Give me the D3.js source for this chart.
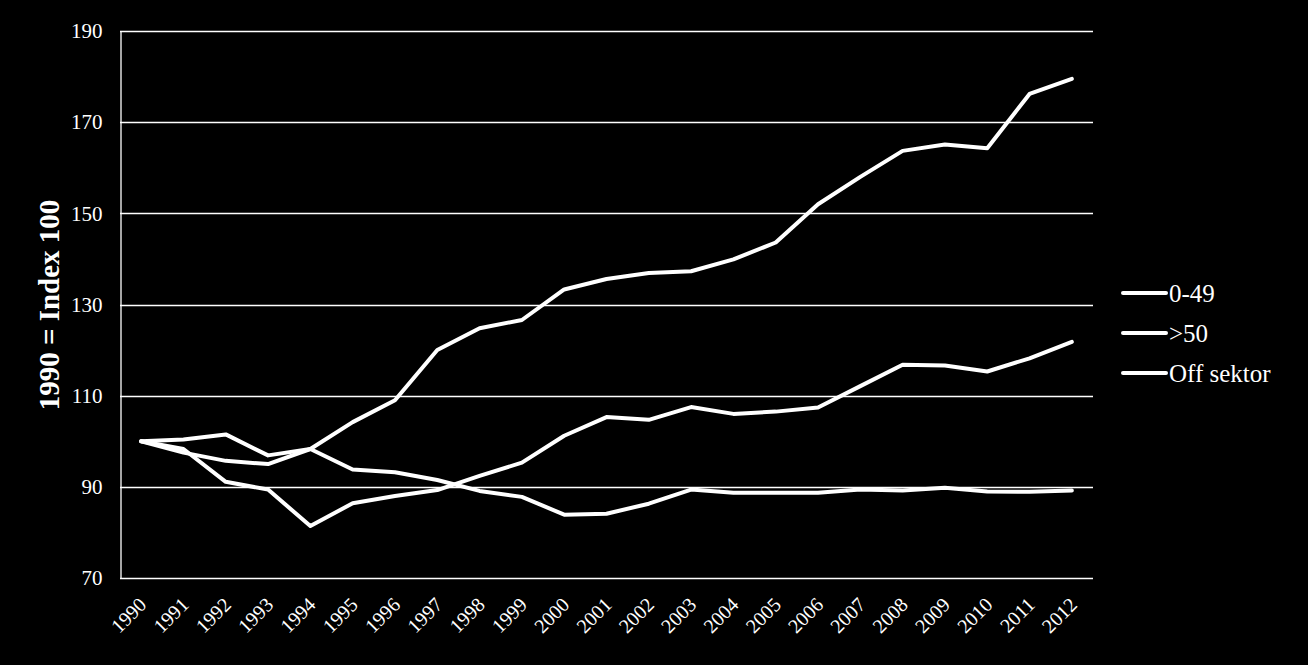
<!DOCTYPE html>
<html>
<head>
<meta charset="utf-8">
<script src="https://cdn.jsdelivr.net/npm/d3@7"></script>
<style>
  body { margin: 0; background: #000; }
  svg { display: block; }
</style>
</head>
<body>
<svg id="chart" width="1308" height="665"></svg>
<script>
// --------------------------------------
// data (1990 = index 100)
// --------------------------------------
const years = [
  "1990", "1991", "1992", "1993", "1994", "1995", "1996", "1997",
  "1998", "1999", "2000", "2001", "2002", "2003", "2004", "2005",
  "2006", "2007", "2008", "2009", "2010", "2011", "2012",
];

const small = [
  100, 100.4, 101.5, 96.9, 98.3, 104.2, 109, 120, 124.8, 126.6, 133.3, 135.6,
  136.9, 137.3, 139.9, 143.6, 152, 158, 163.7, 165.1, 164.3, 176.2, 179.5,
];

const large = [
  100, 98.3, 91.1, 89.4, 81.4, 86.4, 88, 89.3, 92.4, 95.3, 101.2, 105.3,
  104.7, 107.5, 106, 106.5, 107.4, 112.1, 116.8, 116.6, 115.3, 118.2, 121.8,
];

const offSector = [
  100, 97.5, 95.7, 95, 98.3, 93.8, 93.2, 91.5, 89.1, 87.8, 83.9, 84.1,
  86.3, 89.4, 88.7, 88.7, 88.7, 89.4, 89.2, 89.8, 89, 88.9, 89.2,
];

const seriesNames = ["0-49", ">50", "Off sektor"];
const yTicks = [70, 90, 110, 130, 150, 170, 190];

// -------------------------
// D3 line chart
// -------------------------
const svg = d3.select("#chart");
const font = "'Liberation Serif', 'DejaVu Serif', serif";

const plotLeft = 120;
const plotRight = 1093;
const plotTop = 31;
const plotBottom = 578;

const xScale = d3
  .scalePoint()
  .domain(years)
  .range([plotLeft, plotRight])
  .padding(0.5);
const yScale = d3.scaleLinear().domain([70, 190]).range([plotBottom, plotTop]);

// gridlines (one per y tick)
svg
  .append("g")
  .selectAll("line")
  .data(yTicks)
  .enter()
  .append("line")
  .attr("x1", plotLeft)
  .attr("x2", plotRight)
  .attr("y1", (d) => Math.round(yScale(d)) + 0.5)
  .attr("y2", (d) => Math.round(yScale(d)) + 0.5)
  .attr("stroke", "#fff")
  .attr("stroke-width", 1.3);

// y axis
const yAxis = svg
  .append("g")
  .attr("transform", "translate(" + (plotLeft + 0.5) + ",0)")
  .call(d3.axisLeft(yScale).tickValues(yTicks).tickSize(0).tickPadding(18));
yAxis.select(".domain").attr("stroke", "#fff").attr("stroke-width", 1.3);
yAxis
  .selectAll("text")
  .attr("fill", "#fff")
  .style("font-family", font)
  .style("font-size", "21px");

// x axis labels, rotated
const xAxis = svg
  .append("g")
  .attr("transform", "translate(0," + plotBottom + ")")
  .call(d3.axisBottom(xScale).tickSize(0));
xAxis.select(".domain").remove();
xAxis
  .selectAll("text")
  .attr("fill", "#fff")
  .attr("y", 0)
  .attr("dy", 0)
  .attr("text-anchor", "end")
  .attr("transform", "translate(6,28) rotate(-45)")
  .style("font-family", font)
  .style("font-size", "20px");

// y label
svg
  .append("text")
  .attr("text-anchor", "middle")
  .attr("transform", "translate(59,305) rotate(-90)")
  .attr("fill", "#fff")
  .style("font-family", font)
  .style("font-weight", "bold")
  .style("font-size", "29px")
  .text("1990 = Index 100");

// lines
const allSeries = [small, large, offSector];
const line = d3
  .line()
  .x((d, i) => xScale(years[i]))
  .y((d) => yScale(d));

svg
  .append("g")
  .selectAll("path")
  .data(allSeries)
  .enter()
  .append("path")
  .attr("d", line)
  .attr("fill", "none")
  .attr("stroke", "#fff")
  .attr("stroke-width", 4)
  .attr("stroke-linejoin", "round")
  .attr("stroke-linecap", "round");

// legend
const legend = svg
  .append("g")
  .selectAll("g")
  .data(seriesNames)
  .enter()
  .append("g")
  .attr("transform", (d, i) => "translate(1123," + (293 + i * 40) + ")");

legend
  .append("line")
  .attr("x1", 0)
  .attr("x2", 43)
  .attr("stroke", "#fff")
  .attr("stroke-width", 4)
  .attr("stroke-linecap", "round");

legend
  .append("text")
  .attr("x", 46)
  .attr("dy", "0.34em")
  .attr("fill", "#fff")
  .style("font-family", font)
  .style("font-size", "25px")
  .text((d) => d);
</script>
</body>
</html>
